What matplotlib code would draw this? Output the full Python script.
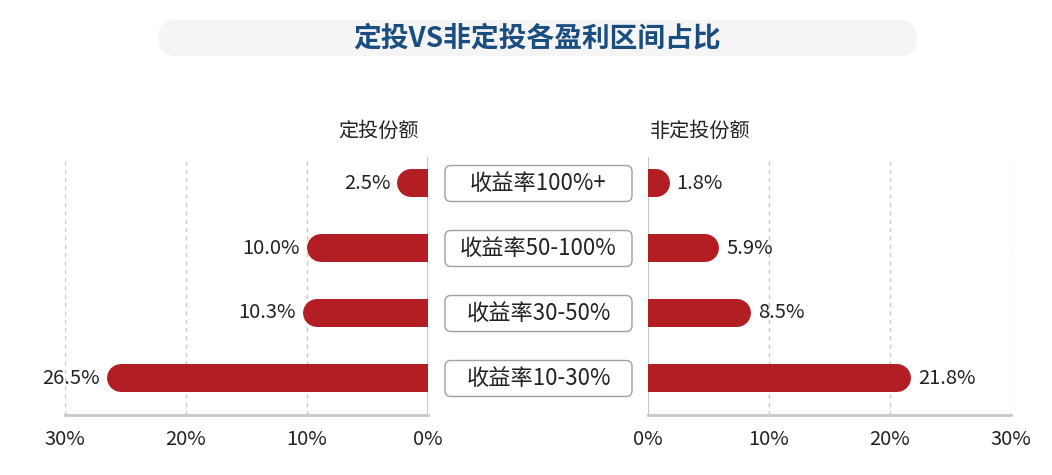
import matplotlib.pyplot as plt
from matplotlib.patches import FancyBboxPatch

plt.rcParams['font.family'] = ['Noto Sans CJK SC', 'DejaVu Sans']

categories = ["收益率100%+", "收益率50-100%", "收益率30-50%", "收益率10-30%"]
dingtou = [2.5, 10.0, 10.3, 26.5]
fei_dingtou = [1.8, 5.9, 8.5, 21.8]
ticks = [0, 10, 20, 30]
tick_labels = ["0%", "10%", "20%", "30%"]

bar_color = "#B31E25"
W, H = 1052, 475

fig = plt.figure(figsize=(10.52, 4.75), dpi=100)

# title pill
pill = FancyBboxPatch((158, H - 56), 759, 36, boxstyle="round,pad=0,rounding_size=18",
                      transform=None, fc="#F5F5F5", ec="none")
fig.patches.append(pill)
fig.text(537 / W, 1 - 38 / H, "定投VS非定投各盈利区间占比", ha="center", va="center",
         fontsize=20, fontweight="bold", color="#1B4E80")

ax_bottom = (H - 415) / H
ax_height = (415 - 157) / H
ax_w = (427.5 - 65) / W
axL = fig.add_axes([65 / W, ax_bottom, ax_w, ax_height])
axR = fig.add_axes([648 / W, ax_bottom, ax_w, ax_height])

px_per_unit = (427.5 - 65) / 30
lw_pt = 28 * 72 / 100
r = 14 / px_per_unit

rows = list(range(len(categories)))
for ax, vals, side in [(axL, dingtou, "L"), (axR, fei_dingtou, "R")]:
    ax.set_xlim(0, 30)
    ax.set_ylim(3 + 37 / 65, -26 / 65)
    if side == "L":
        ax.invert_xaxis()
    for y, v in zip(rows, vals):
        ax.plot([-3, v - r], [y, y], color=bar_color, lw=lw_pt, solid_capstyle="round", zorder=3)
        ax.text(v + 7 / px_per_unit, y, f"{v:.1f}%", ha="right" if side == "L" else "left",
                va="center", fontsize=14.5, color="#222222")
    for t in [10, 20, 30]:
        ax.axvline(t, color="#C8C8C8", lw=1, ls=(0, (3, 3)), zorder=1)
    for s in ax.spines.values():
        s.set_visible(False)
    ax.spines["bottom"].set_visible(True)
    ax.spines["bottom"].set_color("#C8C8C8")
    ax.spines["bottom"].set_linewidth(2)
    ax.axvline(0, color="#C8C8C8", lw=1.5, zorder=2)
    ax.set_yticks([])
    ax.set_xticks(ticks)
    ax.set_xticklabels(tick_labels, fontsize=14.5, color="#222222")
    ax.tick_params(axis="x", length=0, pad=10)

fig.text(379 / W, 1 - 131 / H, "定投份额", ha="center", va="center", fontsize=14.5, color="#222222")
fig.text(700 / W, 1 - 131 / H, "非定投份额", ha="center", va="center", fontsize=14.5, color="#222222")

# category boxes in the middle
for i, cat in enumerate(categories):
    yc = 183.5 + 65 * i
    box = FancyBboxPatch((445, H - yc - 18), 187, 36, boxstyle="round,pad=0,rounding_size=6",
                         transform=None, fc="white", ec="#A0A0A0", lw=1)
    fig.patches.append(box)
    fig.text(538.5 / W, 1 - yc / H, cat, ha="center", va="center", fontsize=16, color="#222222")

fig.savefig("out.png", dpi=100)
